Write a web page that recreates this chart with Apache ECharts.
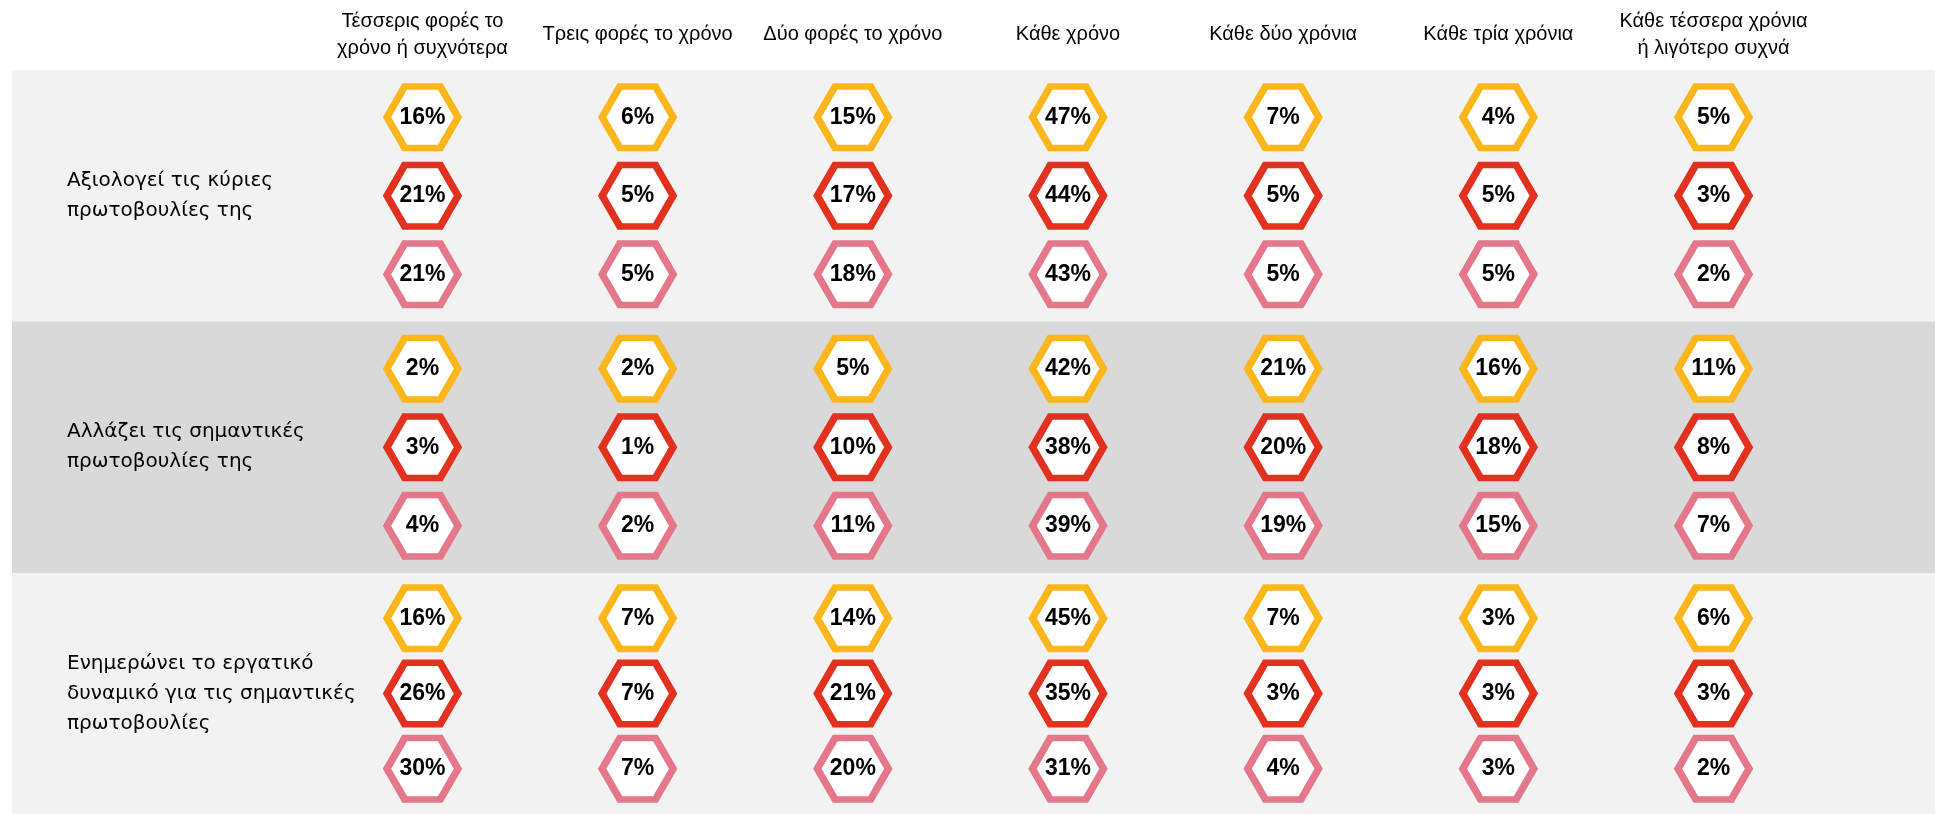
<!DOCTYPE html>
<html>
<head>
<meta charset="utf-8">
<script src="https://cdn.jsdelivr.net/npm/echarts@6/dist/echarts.min.js"></script>
<style>
html,body{margin:0;padding:0;background:#fff;}
#chart{width:1935px;height:814px;}
</style>
</head>
<body>
<div id="chart"></div>
<script>
// ---- data ----
const frequencies = [
  'Τέσσερις φορές το\nχρόνο ή συχνότερα',
  'Τρεις φορές το χρόνο',
  'Δύο φορές το χρόνο',
  'Κάθε χρόνο',
  'Κάθε δύο χρόνια',
  'Κάθε τρία χρόνια',
  'Κάθε τέσσερα χρόνια\nή λιγότερο συχνά'
];
const activities = [
  'Αξιολογεί τις κύριες\nπρωτοβουλίες της',
  'Αλλάζει τις σημαντικές\nπρωτοβουλίες της',
  'Ενημερώνει το εργατικό\nδυναμικό για τις σημαντικές\nπρωτοβουλίες'
];
const seriesNames = ['Σειρά 1', 'Σειρά 2', 'Σειρά 3'];
// values per activity: [yellow row, red row, pink row]
const evaluates = [
  [16, 6, 15, 47, 7, 4, 5],
  [21, 5, 17, 44, 5, 5, 3],
  [21, 5, 18, 43, 5, 5, 2]
];
const changes = [
  [2, 2, 5, 42, 21, 16, 11],
  [3, 1, 10, 38, 20, 18, 8],
  [4, 2, 11, 39, 19, 15, 7]
];
const informs = [
  [16, 7, 14, 45, 7, 3, 6],
  [26, 7, 21, 35, 3, 3, 3],
  [30, 7, 20, 31, 4, 3, 2]
];
const activityValues = [evaluates, changes, informs];

// ---- styles ----
const rowColors = ['#FBB61B', '#E2311F', '#E47789'];
const bandColors = ['#F2F2F2', '#D9D9D9', '#F2F2F2'];
const hexPath = 'path://M0,433 L250,0 L750,0 L1000,433 L750,866 L250,866 Z';

const bandTop = 70, bandH = 251.5;
const gridLeft = 314.9, gridRight = 113.9;

const grids = [], xAxes = [], yAxes = [], series = [], graphics = [];
activities.forEach((act, b) => {
  const top = bandTop + b * bandH;
  graphics.push({
    type: 'rect', z: -10,
    shape: {x: 12, y: top, width: 1923, height: bandH},
    style: {fill: bandColors[b]}
  });
  grids.push({left: gridLeft, right: gridRight, top: top, height: bandH, show: false});
  xAxes.push({
    type: 'category', gridIndex: b, data: frequencies,
    position: 'top', boundaryGap: true,
    axisLine: {show: false}, axisTick: {show: false}, splitLine: {show: false},
    axisLabel: b === 0 ? {
      show: true, interval: 0, margin: 35.5, verticalAlign: 'middle',
      fontFamily: 'Liberation Sans, Arial, sans-serif', fontSize: 20, lineHeight: 27, color: '#000'
    } : {show: false}
  });
  yAxes.push({
    type: 'value', gridIndex: b, min: -0.6, max: 2.6, inverse: true,
    axisLine: {show: false}, axisTick: {show: false}, splitLine: {show: false},
    axisLabel: {show: false},
    name: act, nameLocation: 'middle', nameGap: gridLeft - 67, nameRotate: 0,
    nameTextStyle: {align: 'left', verticalAlign: 'middle', fontFamily: 'DejaVu Sans, sans-serif',
      fontSize: 20, lineHeight: 30, color: '#000'}
  });
  activityValues[b].forEach((vals, r) => {
    series.push({
      type: 'scatter', name: seriesNames[r], xAxisIndex: b, yAxisIndex: b,
      symbol: hexPath, symbolSize: [71, 61.5], symbolKeepAspect: false,
      itemStyle: {color: '#ffffff', borderColor: rowColors[r], borderWidth: 7, opacity: 1},
      emphasis: {disabled: true},
      label: {
        show: true, position: 'inside', formatter: p => p.value[2] + '%',
        fontFamily: 'Liberation Sans, Arial, sans-serif', fontWeight: 'bold', fontSize: 23, color: '#000'
      },
      data: vals.map((v, i) => [i, r, v])
    });
  });
});

const chart = echarts.init(document.getElementById('chart'), null, {renderer: 'canvas'});
chart.setOption({
  animation: false,
  backgroundColor: '#ffffff',
  graphic: graphics,
  grid: grids,
  xAxis: xAxes,
  yAxis: yAxes,
  series: series
});
</script>
</body>
</html>
